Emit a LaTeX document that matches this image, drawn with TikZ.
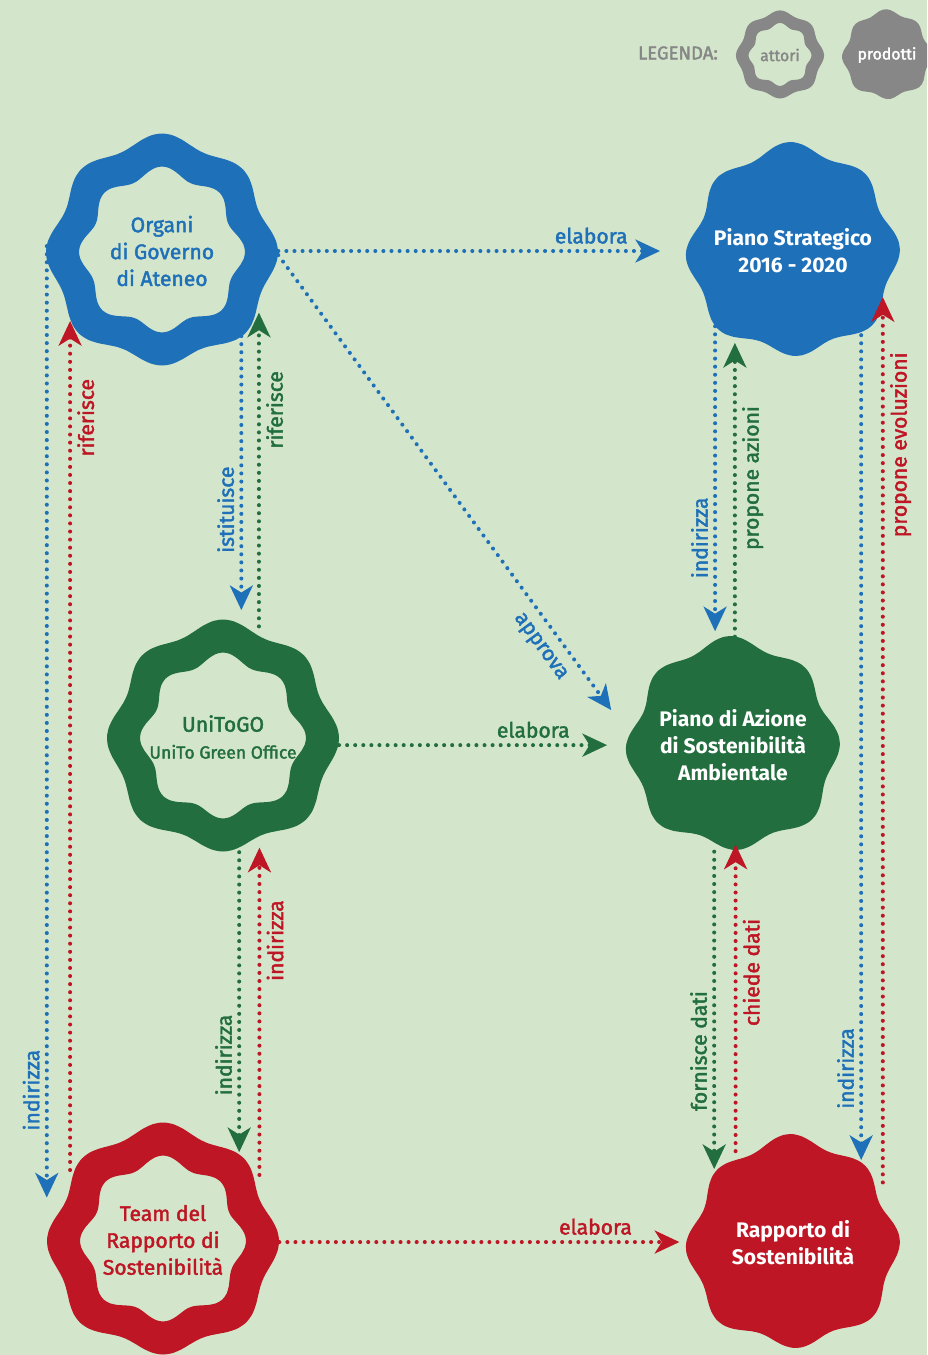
\documentclass[tikz,border=0pt]{standalone}
\usepackage{fontspec}
\setmainfont{Fira Sans}[UprightFeatures={FakeBold=2}]
\usetikzlibrary{arrows.meta,calc}
\definecolor{sfondo}{RGB}{211,230,203}
\definecolor{blu}{RGB}{30,112,184}
\definecolor{verde}{RGB}{34,110,62}
\definecolor{rosso}{RGB}{190,22,36}
\definecolor{grigio}{RGB}{135,135,135}
\tikzset{
  pics/ring/.style={code={\fill[#1, even odd rule] plot[smooth cycle, domain=0:355, samples=72] (\x:{111+5*cos(8*\x)+1.5*sin(3*\x)}) plot[smooth cycle, domain=0:355, samples=72] (\x:{78+5*cos(8*\x)+1.5*sin(3*\x)});}},
  pics/blob/.style={code={\fill[#1] plot[smooth cycle, domain=0:355, samples=72] (\x:{102+5*cos(8*\x+15)+2*sin(3*\x)});}},
  act/.style={circle, minimum size=4.64cm, inner sep=0pt, align=center, font=\fontsize{12}{15.3}\selectfont},
  prd/.style={circle, minimum size=4.32cm, inner sep=0pt, align=center, text=white, font=\bfseries\fontsize{12}{15.3}\selectfont},
  punt/.style={line width=2.3pt, dash pattern=on 0pt off 4.6pt, line cap=round, -{Stealth[length=14pt,width=13pt,inset=4pt]}},
  lbl/.style={inner sep=3pt, font=\fontsize{12}{14}\selectfont},
  vl/.style={lbl, rotate=90, anchor=south},
  vr/.style={lbl, rotate=90, anchor=north}
}
\begin{document}
\begin{tikzpicture}[x=0.02cm, y=-0.02cm]
\useasboundingbox (0,0) rectangle (927,1355);
\clip (0,0) rectangle (927,1355);
\fill[sfondo] (0,0) rectangle (927,1355);
% legenda
\node[text=grigio, font=\fontsize{10.5}{12}\selectfont] (leg) at (678,53) {LEGENDA:};
\path (780,55) pic[scale=0.38]{ring=grigio} node[text=grigio, font=\fontsize{9}{11}\selectfont] (att) {attori};
\path (887,55) pic[scale=0.42]{blob=grigio} node[text=white, font=\fontsize{9}{11}\selectfont] (prod) {prodotti};
% attori
\path (162,251) pic{ring=blu} node[act, text=blu] (orgs) {Organi\\di Governo\\di Ateneo};
\path (223,737) pic{ring=verde} node[act, text=verde] (unito) {UniToGO\\{\fontsize{10}{12}\selectfont UniTo Green Office}};
\path (163,1240) pic{ring=rosso} node[act, text=rosso] (team) {Team del\\Rapporto di\\Sostenibilità};
% prodotti
\path (793,251) pic{blob=blu} node[prd] (strat) {Piano Strategico\\2016 - 2020};
\path (733,745) pic{blob=verde} node[prd] (azione) {Piano di Azione\\di Sostenibilità\\Ambientale};
\path (793,1243) pic{blob=rosso} node[prd] (rapp) {Rapporto di\\Sostenibilità};
%
\draw[punt, blu, shorten >=14pt] (orgs.east) -- node[lbl, above, pos=0.77] {elabora} (strat.west);
\draw[punt, blu, shorten >=14pt] (orgs.-2) -- node[lbl, sloped, below, inner sep=6pt, pos=0.8] {approva} (azione.172);
\draw[punt, blu, shorten >=6pt] (orgs.-47) -- node[vl, pos=0.61] {istituisce} (orgs.-47 |- unito.north);
\draw[punt, verde] (unito.72) -- node[vr, pos=0.69] {riferisce} (unito.72 |- orgs.-32);
\draw[punt, blu, shorten >=7pt, shorten <=-12pt] (orgs.-172) -- node[vl, pos=0.873] {indirizza} (orgs.-172 |- team.165);
\draw[punt, rosso] (team.143) -- node[vr, pos=0.886] {riferisce} (team.143 |- orgs.-143);
\draw[punt, verde, shorten >=10pt] (unito.-4) -- node[lbl, above, pos=0.68] {elabora} (unito.-4 -| azione.west);
\draw[punt, verde] (unito.-82) -- node[vl, pos=0.676] {indirizza} (unito.-82 |- team.49);
\draw[punt, rosso] (team.34) -- node[vr, pos=0.716] {indirizza} (team.34 |- unito.-72);
\draw[punt, rosso, shorten >=3pt] (team.-1) -- node[lbl, above, pos=0.78] {elabora} (team.-1 -| rapp.west);
\draw[punt, blu, shorten >=4pt] (strat.-136) -- node[vl, pos=0.678] {indirizza} (strat.-136 |- azione.100);
\draw[punt, verde] (azione.89) -- node[vr, pos=0.54] {propone azioni} (azione.89 |- strat.-122);
\draw[punt, verde] (azione.-100) -- node[vl, pos=0.628] {fornisce dati} (azione.-100 |- rapp.137);
\draw[punt, rosso, shorten >=-5pt] (rapp.122) -- node[vr, pos=0.6] {chiede dati} (rapp.122 |- azione.-89);
\draw[punt, blu] (strat.-51) -- node[vl, pos=0.889] {indirizza} (strat.-51 |- rapp.50);
\draw[punt, rosso, shorten >=-10pt] (rapp.34) -- node[vr, pos=0.85] {propone evoluzioni} (rapp.34 |- strat.-36);
\end{tikzpicture}
\end{document}
